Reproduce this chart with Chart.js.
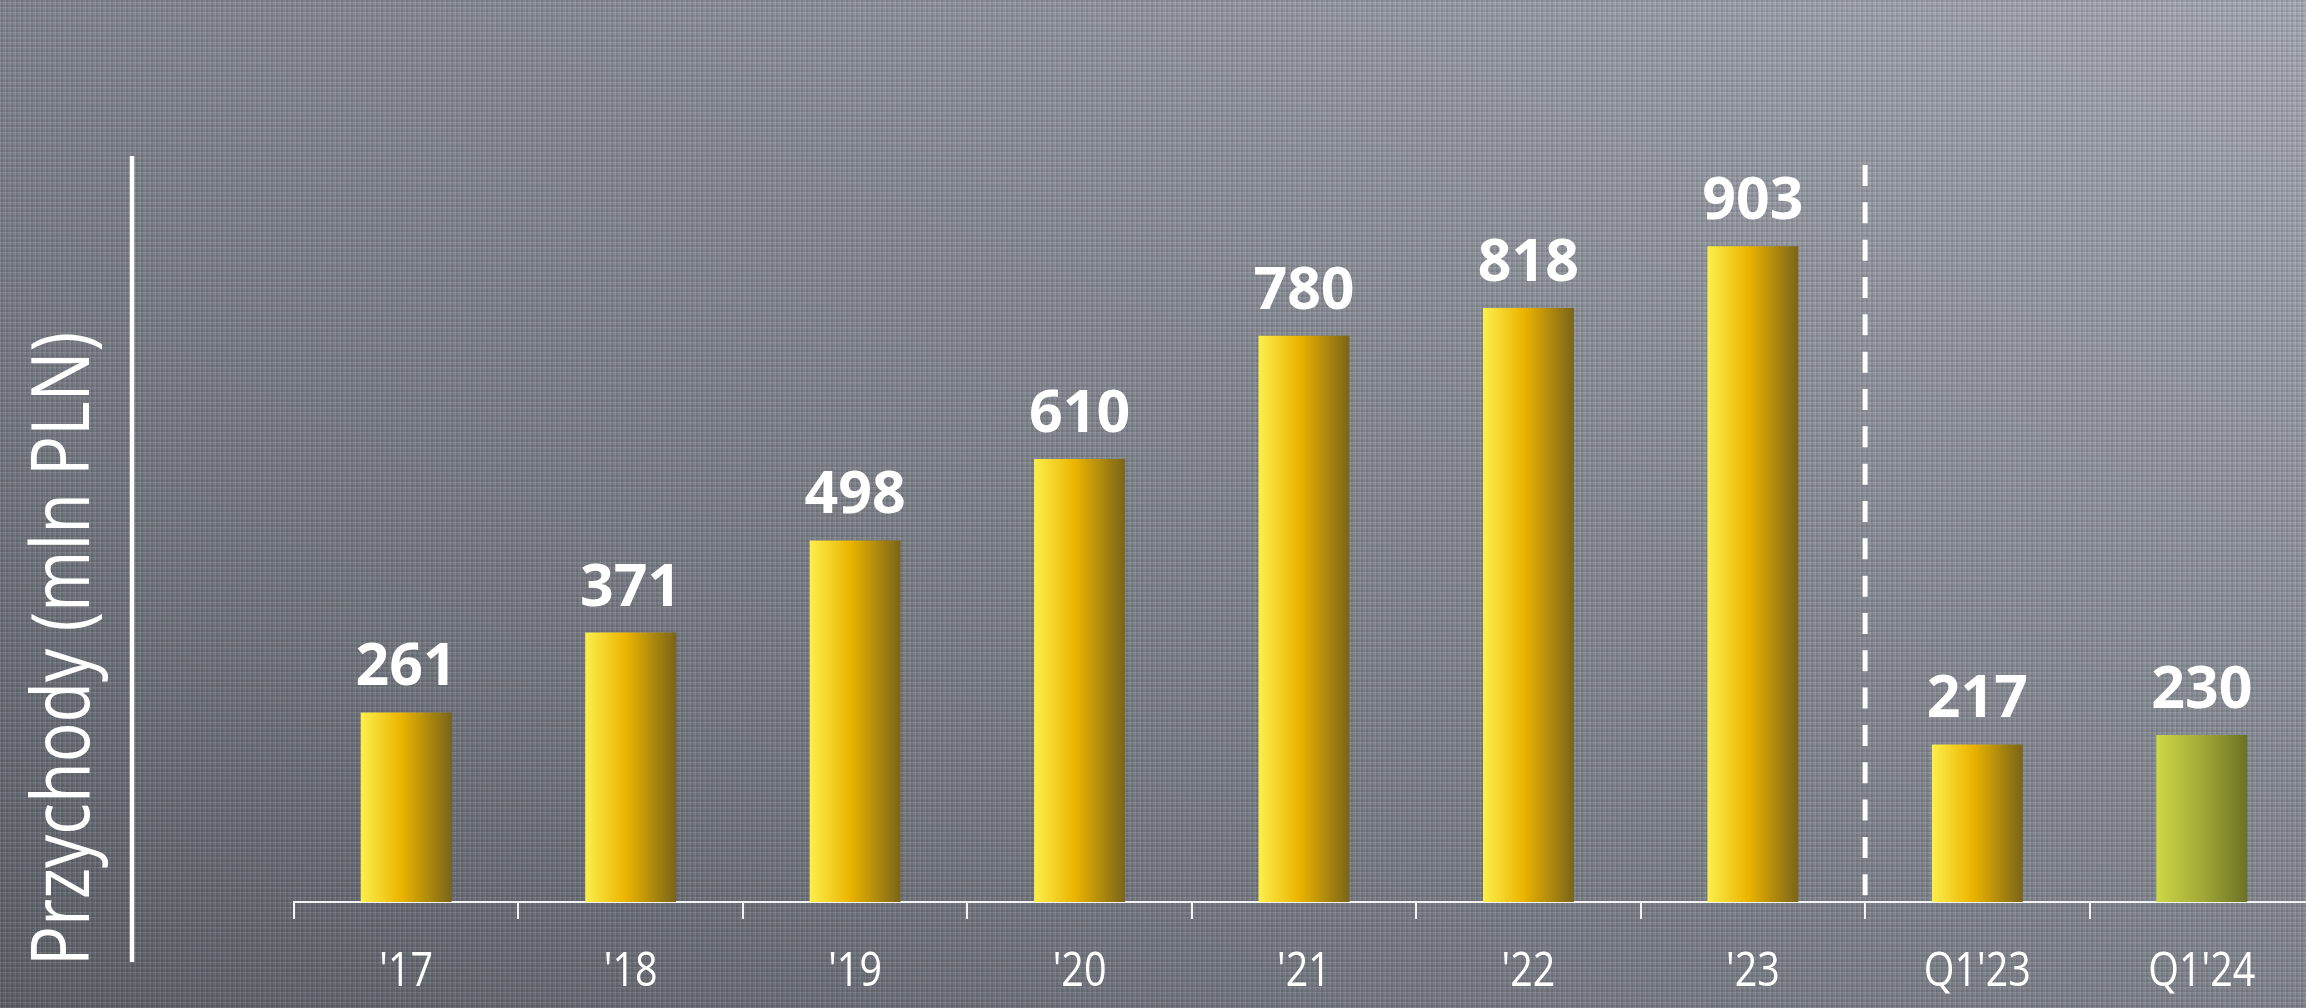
<!DOCTYPE html>
<html lang="pl">
<head>
<meta charset="utf-8">
<title>Przychody (mln PLN)</title>
<script src="https://cdn.jsdelivr.net/npm/chart.js@4.4.1/dist/chart.umd.min.js"></script>
<style>
  html, body { margin: 0; padding: 0; width: 2306px; height: 1008px; overflow: hidden; }
  body {
    background:
      repeating-linear-gradient(0deg, rgba(255,255,255,0.08) 0 1px, rgba(0,0,0,0.07) 1px 3px, transparent 3px 5px),
      repeating-linear-gradient(90deg, rgba(255,255,255,0.07) 0 1px, rgba(0,0,0,0.07) 1px 3px, transparent 3px 5px),
      linear-gradient(to top right, #5d6168 0%, #757981 30%, #878b93 60%, #a5a9b3 100%);
  }
  #wrap { position: relative; width: 2306px; height: 1008px; overflow: hidden; }
  canvas { display: block; }
</style>
</head>
<body>
<div id="wrap"><canvas id="chart" width="2314" height="1008"></canvas></div>
<script>
// Revenue by year, then first quarters compared
const categories = ["'17", "'18", "'19", "'20", "'21", "'22", "'23", "Q1'23", "Q1'24"];
const revenue = [261, 371, 498, 610, 780, 818, 903, 217, 230];
const axisTitle = "Przychody (mln PLN)";
const highlightCategory = "Q1'24";

const textFamily = "'Open Sans', 'Noto Sans', sans-serif";

const goldStops = [[0, '#fcef4c'], [0.45, '#ebb400'], [1, '#7a6419']];
const oliveStops = [[0, '#ced745'], [0.5, '#a2aa38'], [1, '#6c7224']];

const BAR_PCT = 0.9, CAT_PCT = 0.45;

function barFill(context) {
  const chart = context.chart;
  const x = chart.scales.x;
  if (!chart.chartArea || !x) return '#ebb400';
  const i = context.dataIndex;
  const cx = x.getPixelForValue(i);
  const half = (x.width / categories.length) * BAR_PCT * CAT_PCT / 2;
  const g = chart.ctx.createLinearGradient(cx - half, 0, cx + half, 0);
  const stops = categories[i] === highlightCategory ? oliveStops : goldStops;
  stops.forEach(([p, c]) => g.addColorStop(p, c));
  return g;
}

// Text drawn horizontally condensed, centred on (0,0) of the current transform
function condensedText(ctx, text, squeeze) {
  ctx.save();
  ctx.scale(squeeze, 1);
  ctx.fillText(text, 0, 0);
  ctx.restore();
}

// Dashed separator, category labels, rotated axis title with its rule, value labels
const decorations = {
  id: 'decorations',
  beforeDatasetsDraw(chart) {
    const { ctx, chartArea, scales: { x } } = chart;
    const q = categories.findIndex(c => c.startsWith('Q'));
    const sepX = (x.getPixelForValue(q - 1) + x.getPixelForValue(q)) / 2;
    ctx.save();
    ctx.strokeStyle = '#ffffff';
    ctx.lineWidth = 5;
    ctx.setLineDash([21, 16.33]);
    ctx.beginPath();
    ctx.moveTo(sepX, chartArea.top);
    ctx.lineTo(sepX, chartArea.bottom - 2);
    ctx.stroke();
    ctx.restore();
  },
  afterDatasetsDraw(chart) {
    const { ctx, chartArea, scales: { x } } = chart;
    const meta = chart.getDatasetMeta(0);
    ctx.save();
    ctx.fillStyle = '#ffffff';
    ctx.textAlign = 'center';
    ctx.textBaseline = 'alphabetic';
    ctx.font = `700 59px ${textFamily}`;
    meta.data.forEach((bar, i) => {
      ctx.fillText(String(revenue[i]), bar.x, bar.y - 27);
    });
    // category labels under the axis
    ctx.font = `400 47px ${textFamily}`;
    categories.forEach((label, i) => {
      ctx.save();
      ctx.translate(x.getPixelForValue(i), chartArea.bottom + 84);
      condensedText(ctx, label, 0.84);
      ctx.restore();
    });
    ctx.restore();
  },
  afterDraw(chart) {
    const { ctx } = chart;
    ctx.save();
    // vertical rule beside the title
    ctx.strokeStyle = '#ffffff';
    ctx.lineWidth = 4.5;
    ctx.beginPath();
    ctx.moveTo(132, 156);
    ctx.lineTo(132, 962);
    ctx.stroke();
    // rotated axis title
    ctx.translate(89, 649);
    ctx.rotate(-Math.PI / 2);
    ctx.fillStyle = '#ffffff';
    ctx.font = `400 81px ${textFamily}`;
    ctx.textAlign = 'center';
    ctx.textBaseline = 'alphabetic';
    const w = ctx.measureText(axisTitle).width;
    condensedText(ctx, axisTitle, Math.min(1, 634 / w));
    ctx.restore();
  }
};

new Chart(document.getElementById('chart'), {
  type: 'bar',
  data: {
    labels: categories,
    datasets: [{
      data: revenue,
      backgroundColor: barFill,
      borderWidth: 0,
      barPercentage: BAR_PCT,
      categoryPercentage: CAT_PCT
    }]
  },
  options: {
    responsive: false,
    animation: false,
    layout: { padding: { left: 294, top: 165, right: 0, bottom: 89 } },
    plugins: { legend: { display: false }, tooltip: { enabled: false } },
    scales: {
      x: {
        offset: true,
        grid: { offset: true, drawOnChartArea: false, drawTicks: true, tickLength: 17, color: '#f2f3f5', lineWidth: 2 },
        border: { display: true, color: '#f2f3f5', width: 2 },
        ticks: { display: false }
      },
      y: { display: false, min: 0, max: 1015 }
    }
  },
  plugins: [decorations]
});
</script>
</body>
</html>
